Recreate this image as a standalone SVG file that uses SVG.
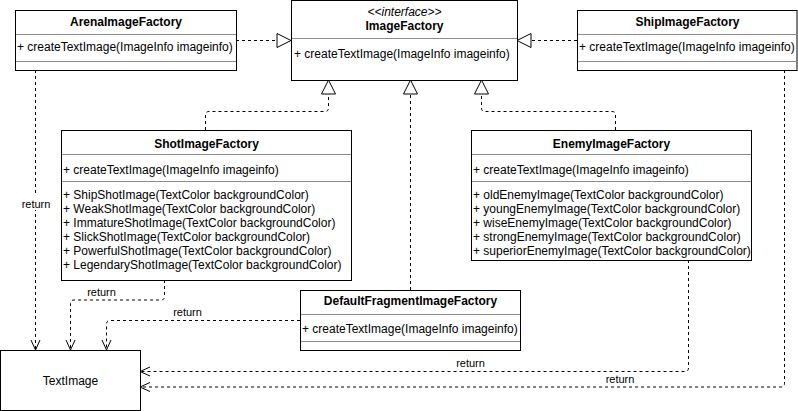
<svg xmlns="http://www.w3.org/2000/svg" width="798" height="411" viewBox="0 0 798 411">
<style>
.box{fill:#fff;stroke:#000;stroke-width:1}
.sep{stroke:#8c8c8c;stroke-width:1}
text{font-family:"Liberation Sans",Arial,sans-serif;font-size:12px;fill:#000}
.title{font-weight:bold;text-anchor:middle}
.stereo{font-style:italic;text-anchor:middle}
.ctr{text-anchor:middle}
.lbl{font-size:11px;text-anchor:middle}
.edge{fill:none;stroke:#000;stroke-width:1;stroke-dasharray:3 3}
</style>
<defs>
<marker id="tri" markerUnits="userSpaceOnUse" markerWidth="16" markerHeight="16" viewBox="0 0 16 16" refX="15" refY="8" orient="auto">
<path d="M1,1 L15,8 L1,15 Z" fill="#fff" stroke="#000" stroke-width="1" stroke-dasharray="none"/>
</marker>
<marker id="open" markerUnits="userSpaceOnUse" markerWidth="12" markerHeight="12" viewBox="0 0 12 12" refX="11" refY="6" orient="auto">
<path d="M1,1.5 L11,6 L1,10.5" fill="none" stroke="#000" stroke-width="1" stroke-dasharray="none"/>
</marker>
</defs>

<g id="connectors">
<path class="edge" d="M236,40.5 H291" marker-end="url(#tri)"/>
<path class="edge" d="M577,40.5 H517" marker-end="url(#tri)"/>
<path class="edge" d="M205.5,130 V115 Q205.5,111.5 209,111.5 H325 Q328.5,111.5 328.5,108 V80" marker-end="url(#tri)"/>
<path class="edge" d="M410.5,290 V80" marker-end="url(#tri)"/>
<path class="edge" d="M615.5,130 V115 Q615.5,111.5 612,111.5 H485 Q481.5,111.5 481.5,108 V80" marker-end="url(#tri)"/>
<path class="edge" d="M35.5,70 V350" marker-end="url(#open)"/>
<path class="edge" d="M164.5,280 V296.5 Q164.5,300 161,300 H74 Q70.5,300 70.5,303.5 V350" marker-end="url(#open)"/>
<path class="edge" d="M300,320.5 H110 Q106.5,320.5 106.5,324 V350" marker-end="url(#open)"/>
<path class="edge" d="M688.5,260 V368 Q688.5,371.5 685,371.5 H140" marker-end="url(#open)"/>
<path class="edge" d="M784.5,70 V383.5 Q784.5,387 781,387 H140" marker-end="url(#open)"/>
<rect x="20" y="196" width="32" height="14" fill="#fff"/>
<text class="lbl" x="36" y="207.5">return</text>
<text class="lbl" x="101.5" y="295.5">return</text>
<text class="lbl" x="187.5" y="315.5">return</text>
<text class="lbl" x="470.5" y="367">return</text>
<text class="lbl" x="620" y="383">return</text>
</g>

<g id="ImageFactory">
<rect class="box" x="291.5" y="0.5" width="226" height="80"/>
<line class="sep" x1="292" y1="38.5" x2="517" y2="38.5"/>
<text class="stereo" x="404.5" y="16">&lt;&lt;interface&gt;&gt;</text>
<text class="title" x="404.5" y="29.5">ImageFactory</text>
<text x="294" y="57.5">+ createTextImage(ImageInfo imageinfo)</text>
</g>

<g id="ArenaImageFactory">
<rect class="box" x="15.5" y="10.5" width="221" height="60"/>
<line class="sep" x1="16" y1="34.5" x2="236" y2="34.5"/>
<line class="sep" x1="16" y1="61.5" x2="236" y2="61.5"/>
<text class="title" x="126" y="26">ArenaImageFactory</text>
<text x="17" y="51">+ createTextImage(ImageInfo imageinfo)</text>
</g>

<g id="ShipImageFactory">
<rect class="box" x="577.5" y="10.5" width="219.5" height="60"/>
<line class="sep" x1="578" y1="34.5" x2="797" y2="34.5"/>
<line class="sep" x1="578" y1="61.5" x2="797" y2="61.5"/>
<text class="title" x="687.5" y="26">ShipImageFactory</text>
<text x="579" y="51">+ createTextImage(ImageInfo imageinfo)</text>
</g>

<g id="ShotImageFactory">
<rect class="box" x="61.5" y="130.5" width="290" height="150"/>
<line class="sep" x1="62" y1="154.5" x2="351" y2="154.5"/>
<line class="sep" x1="62" y1="181.5" x2="351" y2="181.5"/>
<text class="title" x="206.5" y="147.5">ShotImageFactory</text>
<text x="63" y="173.5">+ createTextImage(ImageInfo imageinfo)</text>
<text x="63" y="199">+ ShipShotImage(TextColor backgroundColor)</text>
<text x="63" y="213">+ WeakShotImage(TextColor backgroundColor)</text>
<text x="63" y="227">+ ImmatureShotImage(TextColor backgroundColor)</text>
<text x="63" y="241">+ SlickShotImage(TextColor backgroundColor)</text>
<text x="63" y="255">+ PowerfulShotImage(TextColor backgroundColor)</text>
<text x="63" y="269">+ LegendaryShotImage(TextColor backgroundColor)</text>
</g>

<g id="EnemyImageFactory">
<rect class="box" x="471.5" y="130.5" width="280" height="130"/>
<line class="sep" x1="472" y1="154.5" x2="751" y2="154.5"/>
<line class="sep" x1="472" y1="181.5" x2="751" y2="181.5"/>
<text class="title" x="611.5" y="147.5">EnemyImageFactory</text>
<text x="473" y="173.5">+ createTextImage(ImageInfo imageinfo)</text>
<text x="473" y="199">+ oldEnemyImage(TextColor backgroundColor)</text>
<text x="473" y="213">+ youngEnemyImage(TextColor backgroundColor)</text>
<text x="473" y="227">+ wiseEnemyImage(TextColor backgroundColor)</text>
<text x="473" y="241">+ strongEnemyImage(TextColor backgroundColor)</text>
<text x="473" y="255">+ superiorEnemyImage(TextColor backgroundColor)</text>
</g>

<g id="DefaultFragmentImageFactory">
<rect class="box" x="300.5" y="290.5" width="220" height="60"/>
<line class="sep" x1="301" y1="314.5" x2="520" y2="314.5"/>
<line class="sep" x1="301" y1="341.5" x2="520" y2="341.5"/>
<text class="title" x="410.5" y="305">DefaultFragmentImageFactory</text>
<text x="302" y="332.5">+ createTextImage(ImageInfo imageinfo)</text>
</g>

<g id="TextImage">
<rect class="box" x="0.5" y="350.5" width="140" height="60"/>
<text class="ctr" x="70.5" y="385">TextImage</text>
</g>
</svg>
